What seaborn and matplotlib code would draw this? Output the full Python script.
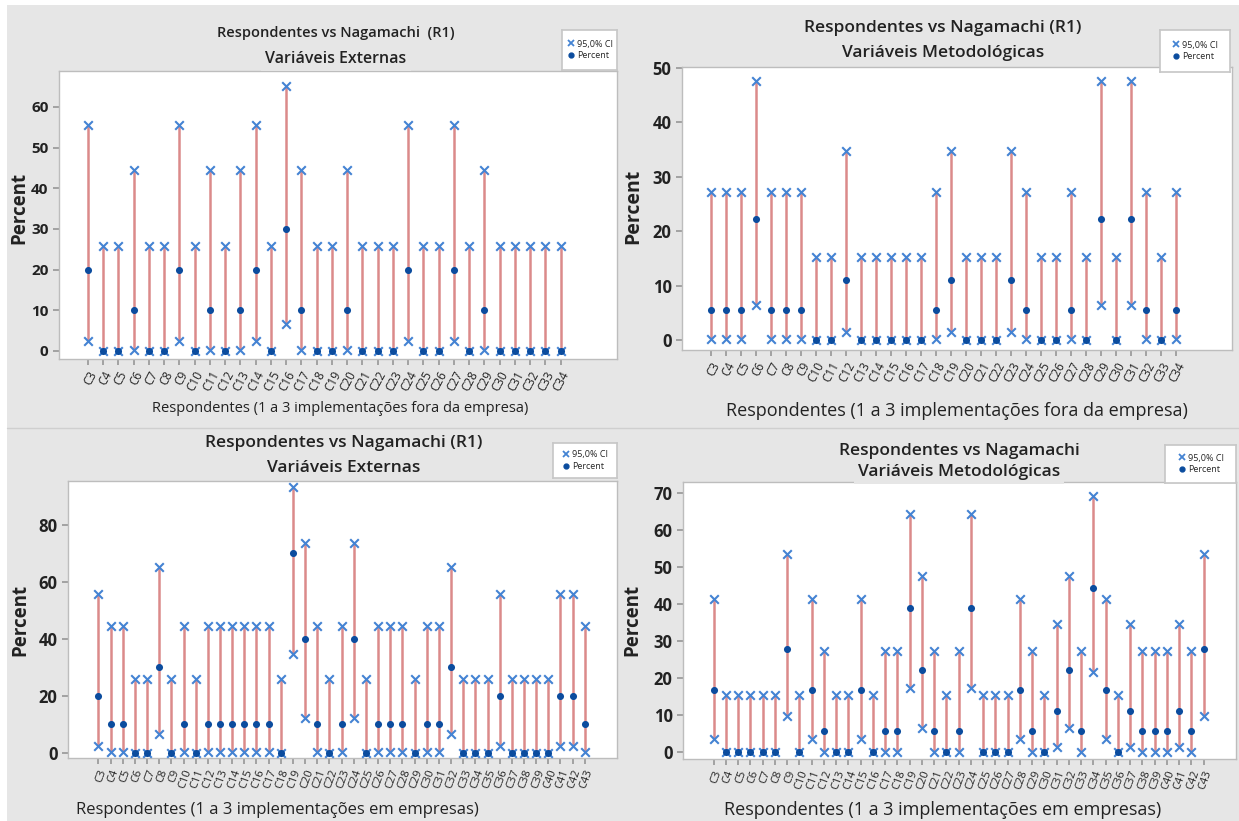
import seaborn as sns
import matplotlib.pyplot as plt
import pandas as pd
from matplotlib.lines import Line2D

# categories
cats_top = [f"C{i}" for i in range(3, 35)]
cats_bot = [f"C{i}" for i in range(3, 44)]

# top-left: Variáveis Externas, fora da empresa
p1_pct = [20, 0, 0, 10, 0, 0, 20, 0, 10, 0, 10, 20, 0, 30, 10, 0, 0, 10, 0, 0, 0, 20, 0, 0, 20, 0, 10, 0, 0, 0, 0, 0]
p1_lo = [2.5, 0, 0, 0.3, 0, 0, 2.5, 0, 0.3, 0, 0.3, 2.5, 0, 6.7, 0.3, 0, 0, 0.3, 0, 0, 0, 2.5, 0, 0, 2.5, 0, 0.3, 0, 0, 0, 0, 0]
p1_hi = [55.6, 25.9, 25.9, 44.5, 25.9, 25.9, 55.6, 25.9, 44.5, 25.9, 44.5, 55.6, 25.9, 65.2, 44.5, 25.9,
         25.9, 44.5, 25.9, 25.9, 25.9, 55.6, 25.9, 25.9, 55.6, 25.9, 44.5, 25.9, 25.9, 25.9, 25.9, 25.9]

# top-right: Variáveis Metodológicas, fora da empresa
p2_pct = [5.6, 5.6, 5.6, 22.2, 5.6, 5.6, 5.6, 0, 0, 11.1, 0, 0, 0, 0, 0, 5.6, 11.1, 0, 0, 0, 11.1, 5.6, 0, 0,
          5.6, 0, 22.2, 0, 22.2, 5.6, 0, 5.6]
p2_lo = [0.1, 0.1, 0.1, 6.4, 0.1, 0.1, 0.1, 0, 0, 1.4, 0, 0, 0, 0, 0, 0.1, 1.4, 0, 0, 0, 1.4, 0.1, 0, 0,
         0.1, 0, 6.4, 0, 6.4, 0.1, 0, 0.1]
p2_hi = [27.3, 27.3, 27.3, 47.6, 27.3, 27.3, 27.3, 15.3, 15.3, 34.7, 15.3, 15.3, 15.3, 15.3, 15.3, 27.3,
         34.7, 15.3, 15.3, 15.3, 34.7, 27.3, 15.3, 15.3, 27.3, 15.3, 47.6, 15.3, 47.6, 27.3, 15.3, 27.3]

# bottom-left: Variáveis Externas, em empresas
p3_pct = [20, 10, 10, 0, 0, 30, 0, 10, 0, 10, 10, 10, 10, 10, 10, 0, 70, 40, 10, 0, 10, 40, 0, 10, 10, 10,
          0, 10, 10, 30, 0, 0, 0, 20, 0, 0, 0, 0, 20, 20, 10]
p3_lo = [2.5, 0.3, 0.3, 0, 0, 6.7, 0, 0.3, 0, 0.3, 0.3, 0.3, 0.3, 0.3, 0.3, 0, 34.8, 12.2, 0.3, 0, 0.3,
         12.2, 0, 0.3, 0.3, 0.3, 0, 0.3, 0.3, 6.7, 0, 0, 0, 2.5, 0, 0, 0, 0, 2.5, 2.5, 0.3]
p3_hi = [55.6, 44.5, 44.5, 25.9, 25.9, 65.2, 25.9, 44.5, 25.9, 44.5, 44.5, 44.5, 44.5, 44.5, 44.5, 25.9,
         93.3, 73.8, 44.5, 25.9, 44.5, 73.8, 25.9, 44.5, 44.5, 44.5, 25.9, 44.5, 44.5, 65.2, 25.9, 25.9,
         25.9, 55.6, 25.9, 25.9, 25.9, 25.9, 55.6, 55.6, 44.5]

# bottom-right: Variáveis Metodológicas, em empresas
p4_pct = [16.7, 0, 0, 0, 0, 0, 27.8, 0, 16.7, 5.6, 0, 0, 16.7, 0, 5.6, 5.6, 38.9, 22.2, 5.6, 0, 5.6, 38.9,
          0, 0, 0, 16.7, 5.6, 0, 11.1, 22.2, 5.6, 44.4, 16.7, 0, 11.1, 5.6, 5.6, 5.6, 11.1, 5.6, 27.8]
p4_lo = [3.6, 0, 0, 0, 0, 0, 9.7, 0, 3.6, 0.1, 0, 0, 3.6, 0, 0.1, 0.1, 17.3, 6.4, 0.1, 0, 0.1, 17.3,
         0, 0, 0, 3.6, 0.1, 0, 1.4, 6.4, 0.1, 21.5, 3.6, 0, 1.4, 0.1, 0.1, 0.1, 1.4, 0.1, 9.7]
p4_hi = [41.4, 15.3, 15.3, 15.3, 15.3, 15.3, 53.5, 15.3, 41.4, 27.3, 15.3, 15.3, 41.4, 15.3, 27.3, 27.3,
         64.3, 47.6, 27.3, 15.3, 27.3, 64.3, 15.3, 15.3, 15.3, 41.4, 27.3, 15.3, 34.7, 47.6, 27.3, 69.2,
         41.4, 15.3, 34.7, 27.3, 27.3, 27.3, 34.7, 27.3, 53.5]

W, H = 1239, 821
BG = "#e6e6e6"
CI_COL = "#4483d3"
PT_COL = "#0b4c9e"
LINE_COL = "#db8a8a"

sns.set_theme(style="white")
plt.rcParams["font.family"] = ["Open Sans", "DejaVu Sans"]

fig = plt.figure(figsize=(W / 100, H / 100), dpi=100, facecolor="white")
fig.patches.append(plt.Rectangle((7 / W, 0), 1, 1 - 5 / H, transform=fig.transFigure,
                                 facecolor=BG, edgecolor="none", zorder=-10))
fig.lines.append(Line2D([7 / W, 1], [1 - 428 / H, 1 - 428 / H], transform=fig.transFigure,
                        color="#cfcfcf", lw=1))


def px(x, y):
    return x / W, 1 - y / H


panels = [
    dict(cats=cats_top, pct=p1_pct, lo=p1_lo, hi=p1_hi, box=(59, 71, 617, 359), ylim=(-1.97, 68.8),
         yticks=range(0, 61, 10), tick_fs=11, xrot=62, xfs=8.5,
         t1="Respondentes vs Nagamachi  (R1)", t1fs=10.5, t1xy=(336, 33),
         t2="Variáveis Externas", t2fs=11.5, t2xy=(336, 59),
         xl="Respondentes (1 a 3 implementações fora da empresa)", xlfs=10.5, xlxy=(340, 408),
         ylxy=(19, 208), ylfs=13.5, leg=(562, 30, 617, 70)),
    dict(cats=cats_top, pct=p2_pct, lo=p2_lo, hi=p2_hi, box=(682, 67, 1232, 350), ylim=(-1.84, 50.2),
         yticks=range(0, 51, 10), tick_fs=12, xrot=62, xfs=8.5,
         t1="Respondentes vs Nagamachi (R1)", t1fs=12.5, t1xy=(943, 28),
         t2="Variáveis Metodológicas", t2fs=12.5, t2xy=(943, 53),
         xl="Respondentes (1 a 3 implementações fora da empresa)", xlfs=13, xlxy=(957, 411),
         ylxy=(633, 206), ylfs=14, leg=(1160, 30, 1230, 72)),
    dict(cats=cats_bot, pct=p3_pct, lo=p3_lo, hi=p3_hi, box=(68, 481, 617, 758), ylim=(-1.75, 95.4),
         yticks=range(0, 81, 20), tick_fs=12, xrot=70, xfs=8,
         t1="Respondentes vs Nagamachi (R1)", t1fs=12.5, t1xy=(344, 443),
         t2="Variáveis Externas", t2fs=12.5, t2xy=(344, 468),
         xl="Respondentes (1 a 3 implementações em empresas)", xlfs=12, xlxy=(277, 810),
         ylxy=(20, 620), ylfs=13.5, leg=(553, 443, 617, 478)),
    dict(cats=cats_bot, pct=p4_pct, lo=p4_lo, hi=p4_hi, box=(683, 482, 1236, 759), ylim=(-1.9, 73.0),
         yticks=range(0, 71, 10), tick_fs=12, xrot=70, xfs=8,
         t1="Respondentes vs Nagamachi", t1fs=12.5, t1xy=(959, 451),
         t2="Variáveis Metodológicas", t2fs=12.5, t2xy=(959, 472),
         xl="Respondentes (1 a 3 implementações em empresas)", xlfs=13, xlxy=(943, 810),
         ylxy=(632, 620), ylfs=13.5, leg=(1165, 445, 1236, 483)),
]

for p in panels:
    l, t, r, b = p["box"]
    ax = fig.add_axes([l / W, 1 - b / H, (r - l) / W, (b - t) / H])
    ax.set_facecolor("white")
    n = len(p["cats"])
    df = pd.DataFrame({"pos": range(n), "cat": p["cats"], "Percent": p["pct"],
                       "lo": p["lo"], "hi": p["hi"]})
    ci = df.melt(id_vars=["pos"], value_vars=["lo", "hi"], value_name="val")

    ax.vlines(df["pos"], df["lo"], df["hi"], color=LINE_COL, lw=1.8, zorder=1)
    sns.scatterplot(data=ci, x="pos", y="val", marker="x", s=38, color=CI_COL,
                    linewidth=1.5, ax=ax, zorder=3, legend=False)
    sns.scatterplot(data=df, x="pos", y="Percent", marker="o", s=26, color=PT_COL,
                    edgecolor=PT_COL, linewidth=0, ax=ax, zorder=4, legend=False)

    # spacing in px between categories decides the margins
    ax.set_xlim(-1.9 if n < 40 else -2.5, n - 1 + (3.7 if n < 40 else 2.65))
    ax.set_ylim(*p["ylim"])
    ax.set_yticks(list(p["yticks"]))
    ax.set_xticks(df["pos"])
    ax.set_xticklabels(p["cats"], rotation=p["xrot"], ha="right", va="top",
                       rotation_mode="anchor", fontsize=p["xfs"], color="#222222")
    ax.tick_params(axis="y", labelsize=p["tick_fs"], length=4, color="#999999", labelcolor="#222222")
    ax.tick_params(axis="x", length=4, color="#999999", pad=3)
    ax.tick_params(axis="both", which="both", bottom=True, left=True, direction="out")
    for lab in ax.get_yticklabels():
        lab.set_fontweight("bold")
    for s in ax.spines.values():
        s.set_color("#bdbdbd")
        s.set_linewidth(1)
    ax.set_xlabel("")
    ax.set_ylabel("")

    x, y = px(*p["t1xy"])
    fig.text(x, y, p["t1"], ha="center", va="center", fontsize=p["t1fs"], color="#222222",
             fontweight="semibold")
    x, y = px(*p["t2xy"])
    fig.text(x, y, p["t2"], ha="center", va="center", fontsize=p["t2fs"], color="#222222",
             fontweight="semibold", zorder=10,
             bbox=dict(facecolor=BG, edgecolor="none", pad=3))
    x, y = px(*p["xlxy"])
    fig.text(x, y, p["xl"], ha="center", va="center", fontsize=p["xlfs"], color="#222222")
    x, y = px(*p["ylxy"])
    fig.text(x, y, "Percent", ha="center", va="center", rotation=90, fontsize=p["ylfs"],
             fontweight="bold", color="#222222")

    # legend box above the plot corner
    ll, lt, lr, lb = p["leg"]
    lax = fig.add_axes([ll / W, 1 - lb / H, (lr - ll) / W, (lb - lt) / H])
    lax.set_xticks([])
    lax.set_yticks([])
    lax.set_facecolor("white")
    for s in lax.spines.values():
        s.set_color("#c8c8c8")
    handles = [Line2D([], [], marker="x", ls="none", color=CI_COL, markersize=5, mew=1.3),
               Line2D([], [], marker="o", ls="none", color=PT_COL, markersize=3.5)]
    lax.legend(handles, ["95,0% CI", "Percent"], loc="center", frameon=False, fontsize=6.5,
               handletextpad=0.2, borderpad=0.1, labelspacing=0.3, handlelength=1)

fig.savefig("out.png", dpi=100, facecolor=fig.get_facecolor())
